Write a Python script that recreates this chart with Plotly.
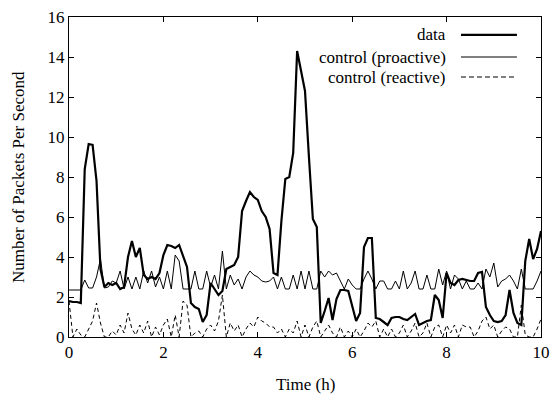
import plotly.graph_objects as go

time_h = [i / 12 for i in range(121)]

data_pps = [1.8, 1.75, 1.75, 1.7, 8.4, 9.65, 9.6, 7.8, 3.4, 2.5,
            2.7, 2.6, 2.7, 2.4, 2.5, 4.0, 4.8, 4.0, 4.45, 3.1,
            2.9, 3.0, 2.9, 3.2, 4.1, 4.6, 4.55, 4.45, 4.6, 4.0,
            3.5, 1.7, 1.5, 1.4, 0.75, 1.1, 2.7, 2.4, 2.1, 2.3,
            3.4, 3.5, 3.6, 4.0, 6.3, 6.8, 7.25, 7.0, 6.85, 6.3,
            6.0, 5.4, 3.2, 3.1, 5.8, 7.9, 8.0, 9.2, 14.3, 13.3,
            12.3, 9.0, 5.9, 5.5, 0.7, 1.3, 1.95, 0.85, 1.9, 2.35,
            2.35, 2.3, 1.6, 0.8, 1.2, 4.5, 4.95, 4.95, 0.95, 0.9,
            0.75, 0.6, 0.95, 1.0, 1.0, 0.9, 0.85, 1.0, 1.15, 0.6,
            0.7, 0.8, 0.85, 2.1, 1.85, 0.95, 3.2, 2.7, 2.6, 2.85,
            2.9, 2.85, 2.8, 2.8, 3.2, 3.25, 1.5, 1.1, 0.8, 0.75,
            0.8, 1.1, 2.35, 1.2, 0.7, 0.6, 3.8, 4.9, 3.9, 4.4,
            5.3]

proactive_pps = [2.35, 2.35, 2.35, 2.35, 2.85, 2.45, 2.45, 3.0, 3.9, 2.45,
                 2.5, 2.8, 2.7, 3.3, 2.4, 3.0, 2.4, 3.0, 2.4, 3.3,
                 2.7, 3.3, 2.5, 3.0, 2.4, 3.3, 2.4, 4.1, 3.8, 2.4,
                 2.4, 2.4, 3.3, 2.4, 2.4, 3.3, 2.5, 3.1, 2.4, 4.3,
                 2.4, 3.1, 2.6, 2.9, 2.4, 3.0, 3.3, 3.1, 3.0, 2.8,
                 2.75, 2.8, 3.0, 2.4, 3.0, 2.4, 2.4, 3.1, 2.4, 3.3,
                 2.4, 3.3, 2.4, 2.4, 3.3, 3.0, 3.3, 3.1, 3.2, 2.8,
                 2.4, 2.9, 2.6, 2.4, 2.4, 2.9, 3.3, 2.9, 2.4, 2.8,
                 2.8, 2.4, 2.4, 2.8, 2.4, 3.3, 2.4, 2.7, 3.3, 2.4,
                 2.4, 3.1, 2.4, 2.4, 3.4, 2.6, 3.3, 2.4, 3.1, 2.9,
                 2.4, 2.8, 2.4, 2.4, 2.7, 2.4, 3.4, 3.0, 3.7, 2.5,
                 2.8, 2.9, 3.1, 2.8, 2.4, 3.4, 2.4, 2.4, 2.4, 2.8,
                 3.3]

reactive_pps = [1.8, 0.0, 0.4, 0.1, 0.0, 0.4, 0.8, 1.7, 0.7, 0.0,
                0.0, 0.3, 0.1, 0.6, 0.2, 1.2, 0.4, 0.1, 0.6, 0.2,
                0.8, 0.0, 0.5, 0.1, 0.6, 0.9, 0.0, 1.1, 0.0, 1.8,
                1.6, 0.0, 0.2, 0.3, 0.0, 0.4, 0.6, 0.3, 0.8, 2.1,
                0.0, 0.7, 0.3, 0.6, 0.0, 0.4, 0.7, 0.5, 1.0, 0.8,
                0.7, 0.5, 0.5, 0.2, 0.4, 0.0, 0.4, 0.2, 0.8, 0.0,
                0.6, 0.0, 0.5, 0.8, 0.0, 0.3, 0.6, 0.2, 0.0, 0.5,
                0.0, 0.3, 0.0, 0.4, 0.0, 0.3, 0.7, 0.5, 0.8, 0.0,
                0.4, 0.0, 0.4, 0.0, 0.2, 0.6, 0.0, 0.3, 0.7, 0.0,
                0.2, 0.7, 0.0, 0.5, 0.6, 0.0, 0.6, 0.2, 0.6, 0.0,
                0.6, 0.5, 0.5, 0.0, 0.3, 0.8, 1.0, 0.4, 0.6, 0.0,
                0.3, 0.5, 0.4, 0.0, 0.0, 1.6, 0.1, 0.0, 0.0, 0.4,
                0.9]

series_names = ["data", "control (proactive)", "control (reactive)"]
x_ticks = [0, 2, 4, 6, 8, 10]
y_ticks = [0, 2, 4, 6, 8, 10, 12, 14, 16]
x_title = "Time (h)"
y_title = "Number of Packets Per Second"

FONT = "Liberation Serif"
FS = 17

styles = [dict(color="black", width=2.2, dash="solid"),
          dict(color="black", width=1, dash="solid"),
          dict(color="black", width=1, dash="4px,3px")]
series = [data_pps, proactive_pps, reactive_pps]

fig = go.Figure()
for name, ys, st in zip(series_names, series, styles):
    fig.add_trace(go.Scatter(x=time_h, y=ys, mode="lines", name=name,
                             line=st, showlegend=False, hoverinfo="skip"))

# gnuplot-style legend: right-aligned text followed by line sample
row_y = [0.944, 0.875, 0.8125]
for name, st, yy in zip(series_names, styles, row_y):
    fig.add_annotation(x=0.803, y=yy, xref="paper", yref="paper",
                       text=name, showarrow=False, xanchor="right",
                       yanchor="middle", font=dict(family=FONT, size=FS, color="black"))
    fig.add_shape(type="line", xref="paper", yref="paper",
                  x0=0.8305, x1=0.949, y0=yy, y1=yy,
                  line=dict(color="black", width=st["width"],
                            dash="5px,3px" if st["dash"] != "solid" else "solid"))

# axis titles
fig.add_annotation(x=0.5, y=-0.147, xref="paper", yref="paper", text=x_title,
                   showarrow=False, xanchor="center", yanchor="middle",
                   font=dict(family=FONT, size=FS, color="black"))
fig.add_annotation(x=-0.108, y=0.5, xref="paper", yref="paper", text=y_title,
                   showarrow=False, xanchor="center", yanchor="middle", textangle=-90,
                   font=dict(family=FONT, size=FS, color="black"))

axis_common = dict(showgrid=False, zeroline=False, showline=True, linecolor="black",
                   linewidth=1, mirror="allticks", ticks="inside", ticklen=5,
                   tickcolor="black", tickwidth=1, automargin=False,
                   tickfont=dict(family=FONT, size=FS, color="black"))

fig.update_xaxes(range=[0, 10], tickvals=x_ticks, **axis_common)
fig.update_yaxes(range=[0, 16], tickvals=y_ticks, **axis_common)

fig.update_layout(width=553, height=397,
                  margin=dict(l=69, r=12, t=17, b=60),
                  paper_bgcolor="white", plot_bgcolor="white",
                  font=dict(family=FONT, size=FS, color="black"))

fig.write_html("out.html", config={"displayModeBar": False},
               post_script="document.body.style.margin='0';document.body.style.padding='0';")
